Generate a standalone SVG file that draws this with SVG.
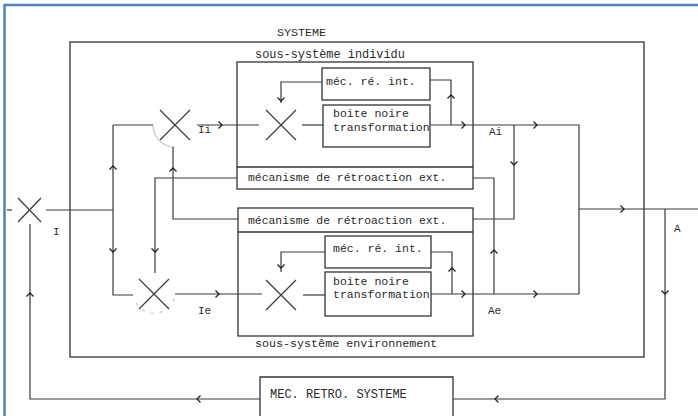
<svg xmlns="http://www.w3.org/2000/svg" xmlns:xlink="http://www.w3.org/1999/xlink" width="698" height="416" viewBox="0 0 698 416">
<style>
  .ln { fill: none; stroke: #3a3a3a; stroke-width: 1.2; }
  .bx { fill: none; stroke: #333; stroke-width: 1.3; }
  .ar { fill: none; stroke: #222; stroke-width: 1.3; }
  .fa { fill: none; stroke: #c8c8c8; stroke-width: 1.2; }
  .t { font-family: "Liberation Mono", "DejaVu Sans Mono", monospace; fill: #2a2a2a; font-size: 11.5px; }
  .frame { stroke: #4f81bd; stroke-width: 2.5; fill: none; }
</style>
<defs>
  <path id="ah" d="M-3.5,-3.5 L0,0 L-3.5,3.5" />
</defs>
<rect width="698" height="416" fill="#ffffff"/>
<path class="frame" d="M4.5,416 V5 H698"/>

<g id="systeme">
  <rect class="bx" x="70" y="42" width="574" height="315"/>
  <text class="t" x="277" y="36" style="font-size:11.7px">SYSTEME</text>
</g>

<g id="sous-systeme-individu">
  <rect class="bx" x="237" y="62" width="236" height="127"/>
  <text class="t" x="255" y="58" style="font-size:11.9px">sous-système individu</text>
</g>
<g id="retro-ext-individu">
  <line class="bx" x1="237" y1="167" x2="473" y2="167"/>
  <text class="t" x="248" y="181" style="font-size:11.4px">mécanisme de rétroaction ext.</text>
</g>
<g id="mec-re-int-individu">
  <rect class="bx" x="322" y="68" width="108" height="32"/>
  <text class="t" x="326" y="85">méc. ré. int.</text>
</g>
<g id="boite-noire-individu">
  <rect class="bx" x="323" y="105" width="107" height="42"/>
  <text class="t" x="333" y="117">boite noire</text>
  <text class="t" x="333" y="131">transformation</text>
</g>

<g id="sous-systeme-environnement">
  <rect class="bx" x="238" y="208" width="235" height="128"/>
  <text class="t" x="255" y="347" style="font-size:11.7px">sous-systême environnement</text>
</g>
<g id="retro-ext-environnement">
  <line class="bx" x1="238" y1="232" x2="473" y2="232"/>
  <text class="t" x="248" y="224" style="font-size:11.4px">mécanisme de rétroaction ext.</text>
</g>
<g id="mec-re-int-environnement">
  <rect class="bx" x="325" y="236" width="106" height="32"/>
  <text class="t" x="333" y="252">méc. ré. int.</text>
</g>
<g id="boite-noire-environnement">
  <rect class="bx" x="325" y="272" width="106" height="44"/>
  <text class="t" x="333" y="285">boite noire</text>
  <text class="t" x="333" y="298">transformation</text>
</g>

<g id="mec-retro-systeme">
  <path class="bx" d="M260,420 V377 H453 V420"/>
  <text class="t" x="270" y="398" style="font-size:12px">MEC. RETRO. SYSTEME</text>
</g>

<g id="cross-I">
  <path class="ln" d="M18,198 L41,222 M41,198 L18,222"/>
  <text class="t" x="53" y="235" style="font-size:11px">I</text>
</g>
<g id="cross-Ii">
  <path class="fa" d="M153,125 A22,22 0 0 0 175,147"/>
  <path class="ln" d="M160,110 L190,140 M190,110 L160,140"/>
  <text class="t" x="198" y="133" style="font-size:11px">Ii</text>
</g>
<g id="cross-Ie">
  <path class="fa" stroke-dasharray="3 6" d="M136,303 A21,21 0 0 0 175,294"/>
  <path class="ln" d="M139,279 L169,309 M169,279 L139,309"/>
  <text class="t" x="198" y="314" style="font-size:11px">Ie</text>
</g>
<g id="cross-individu">
  <path class="ln" d="M266,110 L296,140 M296,110 L266,140"/>
</g>
<g id="cross-environnement">
  <path class="ln" d="M266,280 L296,310 M296,280 L266,310"/>
</g>
<g id="labels-sorties">
  <text class="t" x="489" y="135" style="font-size:11px">Ai</text>
  <text class="t" x="488" y="314" style="font-size:11px">Ae</text>
  <text class="t" x="674" y="232" style="font-size:11px">A</text>
</g>

<g id="connectors">
  <!-- input -->
  <path class="ln" d="M7,210 H12"/>
  <path class="ln" d="M46,210 H113"/>
  <path class="ln" d="M113,125 V295 H133"/>
  <path class="ln" d="M113,125 H153"/>
  <use href="#ah" class="ar" transform="translate(113,166) rotate(-90)"/>
  <use href="#ah" class="ar" transform="translate(113,252) rotate(90)"/>
  <!-- Ii to individual cross -->
  <path class="ln" d="M197,125 H259"/>
  <use href="#ah" class="ar" transform="translate(222,125)"/>
  <path class="ln" d="M302,125 H323"/>
  <!-- Ie to environment cross -->
  <path class="ln" d="M175,294 H262"/>
  <use href="#ah" class="ar" transform="translate(219,294)"/>
  <path class="ln" d="M303,295 H325"/>
  <!-- internal feedback individu -->
  <path class="ln" d="M322,82 H281 V103"/>
  <use href="#ah" class="ar" transform="translate(281,101) rotate(90)"/>
  <path class="ln" d="M430,125 H579 V294"/>
  <use href="#ah" class="ar" transform="translate(465,125)"/>
  <use href="#ah" class="ar" transform="translate(537,125)"/>
  <path class="ln" d="M451,125 V80 H430"/>
  <use href="#ah" class="ar" transform="translate(451,95) rotate(-90)"/>
  <!-- internal feedback environnement -->
  <path class="ln" d="M325,252 H281 V272"/>
  <use href="#ah" class="ar" transform="translate(281,268) rotate(90)"/>
  <path class="ln" d="M431,294 H579"/>
  <use href="#ah" class="ar" transform="translate(465,294)"/>
  <use href="#ah" class="ar" transform="translate(537,294)"/>
  <path class="ln" d="M452,294 V252 H431"/>
  <use href="#ah" class="ar" transform="translate(452,268) rotate(-90)"/>
  <!-- Ai to environment ext feedback -->
  <path class="ln" d="M514,125 V219 H473"/>
  <use href="#ah" class="ar" transform="translate(514,165) rotate(90)"/>
  <!-- Ae to individual ext feedback -->
  <path class="ln" d="M494,294 V178 H473"/>
  <use href="#ah" class="ar" transform="translate(494,250) rotate(-90)"/>
  <!-- ext feedback outputs -->
  <path class="ln" d="M237,178 H155 V273"/>
  <use href="#ah" class="ar" transform="translate(155,252) rotate(90)"/>
  <path class="ln" d="M238,219 H173 V147"/>
  <use href="#ah" class="ar" transform="translate(173,168) rotate(-90)"/>
  <!-- system output -->
  <path class="ln" d="M579,209 H698"/>
  <use href="#ah" class="ar" transform="translate(624,209)"/>
  <path class="ln" d="M665,209 V399 H453"/>
  <use href="#ah" class="ar" transform="translate(665,294) rotate(90)"/>
  <use href="#ah" class="ar" transform="translate(495,399) rotate(180)"/>
  <!-- system feedback -->
  <path class="ln" d="M260,399 H30 V224"/>
  <use href="#ah" class="ar" transform="translate(197,399) rotate(180)"/>
  <use href="#ah" class="ar" transform="translate(30,293) rotate(-90)"/>
</g>
</svg>
